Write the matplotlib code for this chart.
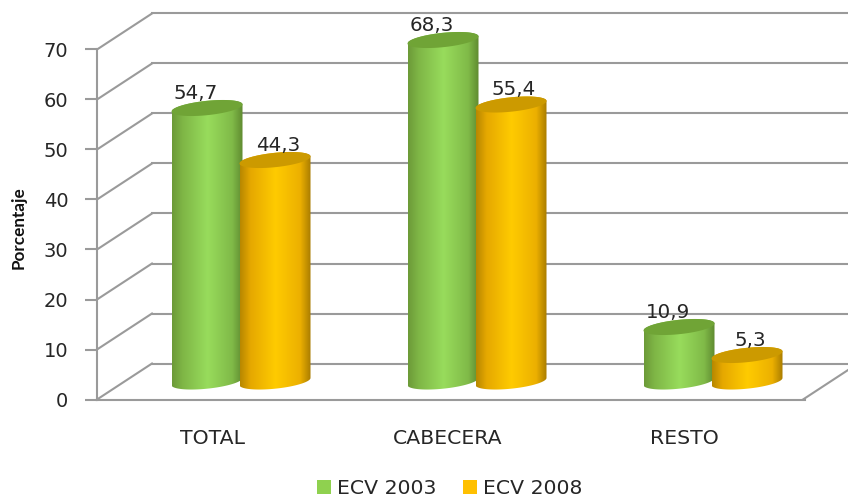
import numpy as np
import matplotlib
matplotlib.use("Agg")
import matplotlib.pyplot as plt
from matplotlib.colors import LinearSegmentedColormap
from matplotlib.patches import Polygon, Rectangle

categories = ["TOTAL", "CABECERA", "RESTO"]
ecv_2003 = [54.7, 68.3, 10.9]
ecv_2008 = [44.3, 55.4, 5.3]
series_names = ["ECV 2003", "ECV 2008"]
y_ticks = [0, 10, 20, 30, 40, 50, 60, 70]

W, H = 848, 499
LEFT, RIGHT, BOTTOM, TOP = 97, 805, 399.5, 49.5
fig = plt.figure(figsize=(W / 100, H / 100), dpi=100, facecolor="white")
ax = fig.add_axes([LEFT / W, 1 - BOTTOM / H, (RIGHT - LEFT) / W, (BOTTOM - TOP) / H])
ax.set_xlim(-0.5, 2.5)
ax.set_ylim(0, 70)
ppx = (RIGHT - LEFT) / 3
ppy = (BOTTOM - TOP) / 70

GRID = "#9a9a9a"
TEXT = "#262626"
DEPTH_X, DEPTH_Y = 55, 36

# wall and floor
x0 = ax.get_xlim()[0]
x1 = ax.get_xlim()[1]
for v in y_ticks:
    ax.plot([x0, x0 + DEPTH_X / ppx], [v, v + DEPTH_Y / ppy], color=GRID, lw=1.5, clip_on=False, zorder=1)
    ax.plot([x0 + DEPTH_X / ppx, x1 + 60 / ppx], [v + DEPTH_Y / ppy] * 2, color=GRID, lw=1.5, clip_on=False, zorder=1)
ax.plot([x1 - 2 / ppx, x1 + (DEPTH_X - 2) / ppx], [0, DEPTH_Y / ppy], color=GRID, lw=1.5, clip_on=False, zorder=1)


def ellipse(cx, v, t):
    a, b, slope = 35.5, 7.2, 0.10
    px = a * np.cos(t)
    py = b * np.sin(t) + slope * a * np.cos(t)
    return np.column_stack([cx + px / ppx, v + (18 + py) / ppy])


def cylinder(i, offset, value, stops, top_color, z, label_dx):
    cx = i + (26 + offset) / ppx
    upper = ellipse(cx, value, np.linspace(0, np.pi, 60))
    lower = ellipse(cx, 0, np.linspace(np.pi, 2 * np.pi, 60))
    body = Polygon(np.vstack([upper, lower]), closed=True, transform=ax.transData, fc="none", ec="none")
    ax.add_patch(body)
    body.set_clip_on(False)
    cmap = LinearSegmentedColormap.from_list("c", stops)
    xs = np.vstack([upper, lower])
    grad = np.linspace(0, 1, 256).reshape(1, -1)
    im = ax.imshow(grad, cmap=cmap, aspect="auto", zorder=z, interpolation="bilinear",
                   extent=[xs[:, 0].min(), xs[:, 0].max(), xs[:, 1].min(), xs[:, 1].max()])
    im.set_clip_box(fig.bbox)
    im.set_clip_path(body)
    ax.add_patch(Polygon(ellipse(cx, value, np.linspace(0, 2 * np.pi, 120)), closed=True,
                         fc=top_color, ec="none", zorder=z + 0.1, clip_on=False))
    ax.annotate(f"{value:.1f}".replace(".", ","), (cx, value), xytext=(label_dx * 0.72, 23 * 0.72),
                textcoords="offset points", ha="center", va="bottom", fontsize=14.3, color=TEXT,
                zorder=10, annotation_clip=False)


green = [(0, "#6c9a38"), (0.15, "#7fb646"), (0.5, "#98dc5c"), (0.85, "#80ba48"), (1, "#5f8a30")]
orange = [(0, "#b78700"), (0.15, "#e6a800"), (0.5, "#ffcb00"), (0.85, "#ecb000"), (1, "#a97c00")]
for i, (a, b) in enumerate(zip(ecv_2003, ecv_2008)):
    cylinder(i, -34, a, green, "#70a436", 3, -11)
    cylinder(i, 34, b, orange, "#cc9a00", 4, 3)

ax.set_xlim(-0.5, 2.5)
ax.set_ylim(0, 70)
for s in ("top", "right"):
    ax.spines[s].set_visible(False)
for s in ("left", "bottom"):
    ax.spines[s].set_color(GRID)
    ax.spines[s].set_linewidth(1.5)
    ax.spines[s].set_zorder(2)
ax.patch.set_alpha(0)
ax.set_yticks(y_ticks)
ax.set_xticks(np.arange(3) - 0.012)
ax.set_xticklabels(categories)
ax.tick_params(axis="y", length=8.6, width=1.5, color=GRID, pad=12, labelsize=14, labelcolor=TEXT)
ax.tick_params(axis="x", length=0, pad=21.5, labelsize=14.7, labelcolor=TEXT)
ax.set_ylabel("Porcentaje", fontsize=12.3, family="Lato", fontweight="bold", color="#111111")
ax.yaxis.set_label_coords((27 - LEFT) / (RIGHT - LEFT), 0.49)

handles = [Rectangle((0, 0), 1, 1, fc="#8fd14f", ec="none"), Rectangle((0, 0), 1, 1, fc="#ffc000", ec="none")]
fig.legend(handles, series_names, loc="center", bbox_to_anchor=(450 / W, 1 - 489 / H), ncol=2, frameon=False,
           fontsize=14.7, labelcolor=TEXT, handlelength=0.68, handleheight=0.68, handletextpad=0.3, columnspacing=1.3)
fig.savefig("out.png", dpi=100)
